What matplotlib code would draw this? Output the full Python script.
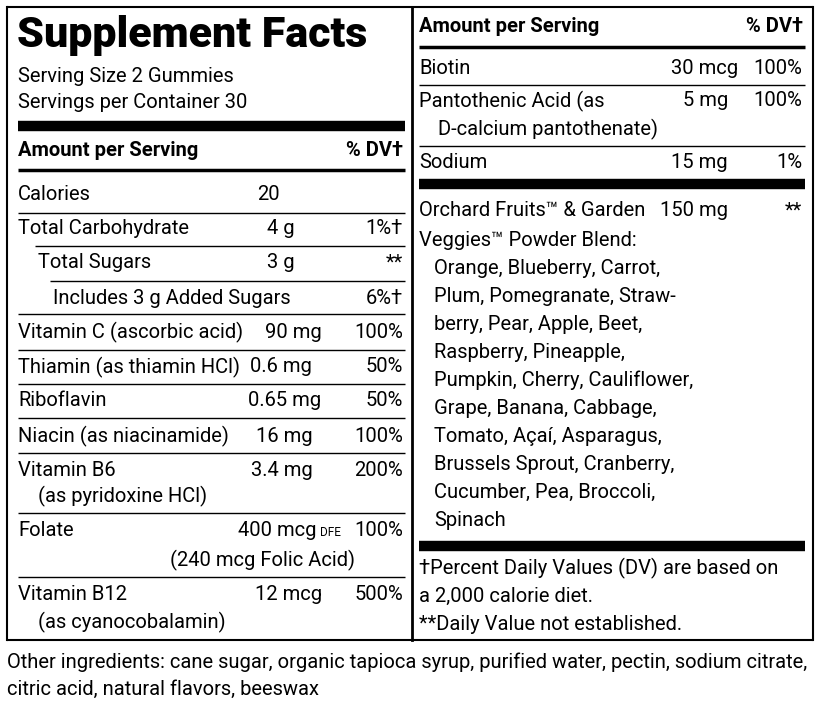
import matplotlib
matplotlib.use("Agg")
import matplotlib.pyplot as plt

FAM = ['Roboto', 'Liberation Sans', 'DejaVu Sans']

title = "Supplement Facts"
serving = ["Serving Size 2 Gummies", "Servings per Container 30"]
header = ["Amount per Serving", "% DV†"]

left_names = ["Calories", "Total Carbohydrate", "Total Sugars", "Includes 3 g Added Sugars",
              "Vitamin C (ascorbic acid)", "Thiamin (as thiamin HCl)", "Riboflavin",
              "Niacin (as niacinamide)", "Vitamin B6", "Folate", "Vitamin B12"]
left_sub = ["", "", "", "", "", "", "", "", "(as pyridoxine HCl)", "(240 mcg Folic Acid)", "(as cyanocobalamin)"]
left_amts = ["20", "4 g", "3 g", "", "90 mg", "0.6 mg", "0.65 mg", "16 mg", "3.4 mg", "400 mcg", "12 mcg"]
left_dv = ["", "1%†", "**", "6%†", "100%", "50%", "50%", "100%", "200%", "100%", "500%"]

right_names = ["Biotin", "Pantothenic Acid (as", "Sodium"]
right_sub = ["", "D-calcium pantothenate)", ""]
right_amts = ["30 mcg", "5 mg", "15 mg"]
right_dv = ["100%", "100%", "1%"]

blend_name = ["Orchard Fruits™ & Garden", "Veggies™ Powder Blend:"]
blend_amt = "150 mg"
blend_dv = "**"
blend_items = ["Orange, Blueberry, Carrot,", "Plum, Pomegranate, Straw-", "berry, Pear, Apple, Beet,",
               "Raspberry, Pineapple,", "Pumpkin, Cherry, Cauliflower,", "Grape, Banana, Cabbage,",
               "Tomato, Açaí, Asparagus,", "Brussels Sprout, Cranberry,", "Cucumber, Pea, Broccoli,",
               "Spinach"]
footnotes = ["†Percent Daily Values (DV) are based on", "a 2,000 calorie diet.", "**Daily Value not established."]
other = ["Other ingredients: cane sugar, organic tapioca syrup, purified water, pectin, sodium citrate,",
         "citric acid, natural flavors, beeswax"]

# ---- layout ----
fig = plt.figure(figsize=(8.25, 7.07), dpi=100)
ax = fig.add_axes([0, 0, 1, 1])
ax.set_xlim(0, 825); ax.set_ylim(707, 0); ax.axis('off')
FS = 14.5

def t(x, y, s, ha='left', bold=False, fs=FS):
    ax.text(x, y, s, ha=ha, va='center', fontsize=fs, family=FAM,
            fontweight='bold' if bold else 'normal', color='black')

def hl(y, x0, x1, lw=1.0):
    ax.plot([x0, x1], [y, y], color='black', lw=lw, solid_capstyle='butt')

# box
L, M, R, T, B = 7, 412, 813, 7, 640
for x in (L, R):
    ax.plot([x, x], [T, B], color='black', lw=1.5)
ax.plot([M, M], [T, B], color='black', lw=2)
hl(T, L, R, 1.5); hl(B, L, R, 1.5)

# left panel
ax.text(17, 36, title, ha='left', va='center', fontsize=31, family=FAM, fontweight=900)
t(18, 76, serving[0]); t(18, 103, serving[1])
hl(126, 18, 405, 7.5)
t(18, 151, header[0], bold=True); t(403, 151, header[1], ha='right', bold=True)
hl(170, 18, 405, 2.5)

name_x = [18, 18, 38, 53, 18, 18, 18, 18, 18, 18, 18]
amt_x = [280, 295, 295, 0, 322, 312, 321, 313, 313, 317, 322]
row_y = [195, 229, 263, 298, 332, 367, 401, 436, 470, 530, 595]
sub_y = [0, 0, 0, 0, 0, 0, 0, 0, 496, 560, 622]
line_y = [213, 246, 281, 314, 350, 384, 418, 453, 513, 577]
line_x0 = [18, 35, 50, 18, 18, 18, 18, 18, 18, 18]
for i, n in enumerate(left_names):
    t(name_x[i], row_y[i], n)
    if left_amts[i]:
        t(amt_x[i], row_y[i], left_amts[i], ha='right')
    if left_dv[i]:
        t(403, row_y[i], left_dv[i], ha='right')
    if left_sub[i]:
        if n == "Folate":
            t(263, sub_y[i], left_sub[i], ha='center')
        else:
            t(38, sub_y[i], left_sub[i])
t(320, 532, "DFE", fs=8.5)
for y, x0 in zip(line_y, line_x0):
    hl(y, x0, 405, 1.0)

# right panel
t(419, 27, header[0], bold=True); t(803, 27, header[1], ha='right', bold=True)
hl(47, 419, 805, 2.5)
r_y = [68, 101, 163]
r_amt_x = [738, 728, 728]
for i, n in enumerate(right_names):
    t(419, r_y[i], n)
    t(r_amt_x[i], r_y[i], right_amts[i], ha='right')
    t(802, r_y[i], right_dv[i], ha='right')
    if right_sub[i]:
        t(438, 129, right_sub[i])
hl(85, 419, 805, 1.0); hl(146, 419, 805, 1.0)
hl(184, 419, 805, 7.5)
t(419, 211, blend_name[0]); t(419, 240, blend_name[1])
t(728, 211, blend_amt, ha='right'); t(802, 211, blend_dv, ha='right')
for i, s in enumerate(blend_items):
    t(434, 268 + i * 28.1, s)
hl(546, 419, 805, 7.5)
for i, s in enumerate(footnotes):
    t(419, 568 + i * 28.5, s)

for i, s in enumerate(other):
    t(7, 662 + i * 27, s)

fig.savefig("out.png", dpi=100)
